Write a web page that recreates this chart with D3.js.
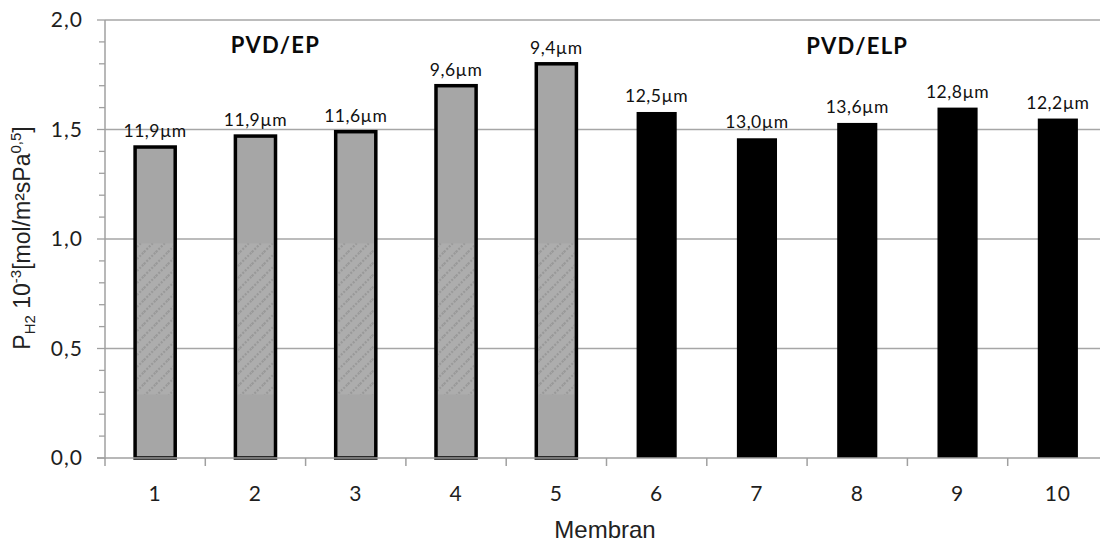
<!DOCTYPE html>
<html>
<head>
<meta charset="utf-8">
<script src="https://cdn.jsdelivr.net/npm/d3@7/dist/d3.min.js"></script>
<style>
  html, body { margin: 0; padding: 0; background: #fff; overflow: hidden; }
  svg { display: block; }
</style>
</head>
<body>
<svg id="chart" width="1100" height="543"></svg>
<script>
// Membrane numbers on the x axis
const membranes = ["1", "2", "3", "4", "5", "6", "7", "8", "9", "10"];
// Hydrogen permeability, 10^-3 mol/(m² s Pa^0.5)
const permeability = [1.42, 1.47, 1.49, 1.70, 1.80, 1.58, 1.46, 1.53, 1.60, 1.55];
// Palladium layer thickness written above each bar
const thickness = ["11,9µm", "11,9µm", "11,6µm", "9,6µm", "9,4µm",
                   "12,5µm", "13,0µm", "13,6µm", "12,8µm", "12,2µm"];
// Preparation route of each membrane
const route = ["EP", "EP", "EP", "EP", "EP", "ELP", "ELP", "ELP", "ELP", "ELP"];
const groupTitles = ["PVD/EP", "PVD/ELP"];
const yTicks = [0, 0.5, 1.0, 1.5, 2.0];

const svg = d3.select("#chart");
const margin = { left: 105, top: 20, bottom: 458 };
const plotRight = 1108;
const labelFont = "Lato, 'Open Sans', sans-serif";

const x = d3.scaleBand().domain(membranes).range([margin.left, plotRight]).padding(0);
const y = d3.scaleLinear().domain([0, 2]).range([margin.bottom, margin.top]);
const barW = x.bandwidth() * 0.4;
const fmt = d => d3.format(".1f")(d).replace(".", ",");

// Speckled texture used in the middle of the grey bars
const defs = svg.append("defs");
const pat = defs.append("pattern")
  .attr("id", "speckle").attr("patternUnits", "userSpaceOnUse")
  .attr("width", 12).attr("height", 12);
pat.append("rect").attr("width", 12).attr("height", 12).attr("fill", "#adadad");
pat.append("path").attr("d", "M0,12 L12,0 M-3,3 L3,-3 M9,15 L15,9")
  .attr("stroke", "#999").attr("stroke-width", 2.2).attr("stroke-dasharray", "2,1.5");

// Horizontal gridlines
svg.append("g").selectAll("line").data(yTicks.filter(t => t > 0)).join("line")
  .attr("x1", margin.left).attr("x2", plotRight)
  .attr("y1", d => y(d)).attr("y2", d => y(d))
  .attr("stroke", "#a6a6a6").attr("stroke-width", 1.5);

// Y axis with minor ticks every 0.1
const yAxis = svg.append("g").attr("transform", `translate(${margin.left},0)`);
yAxis.append("line").attr("x1", 0).attr("x2", 0).attr("y1", y(2)).attr("y2", y(0) + 1)
  .attr("stroke", "#a0a0a0").attr("stroke-width", 1.5);
yAxis.selectAll("line.minor").data(d3.range(0, 21).map(i => i / 10)).join("line")
  .attr("class", "minor")
  .attr("x1", d => (Math.round(d * 10) % 5 === 0 ? -8 : -6)).attr("x2", 0)
  .attr("y1", d => y(d)).attr("y2", d => y(d))
  .attr("stroke", "#a0a0a0").attr("stroke-width", 1.3);
yAxis.selectAll("text").data(yTicks).join("text")
  .attr("x", -22).attr("y", d => y(d)).attr("dy", "0.35em")
  .attr("text-anchor", "end")
  .attr("font-family", labelFont).attr("font-size", 21).attr("letter-spacing", 1)
  .attr("fill", "#1e1e1e").text(fmt);

// Bars
const bars = svg.append("g");
membranes.forEach((m, i) => {
  const cx = x(m) + x.bandwidth() / 2;
  const top = y(permeability[i]);
  if (route[i] === "EP") {
    bars.append("rect").attr("x", cx - barW / 2).attr("y", top)
      .attr("width", barW).attr("height", y(0) - top).attr("fill", "#a6a6a6");
    const t0 = y(0.98), t1 = y(0.29);
    bars.append("rect").attr("x", cx - barW / 2 + 2).attr("y", t0)
      .attr("width", barW - 4).attr("height", t1 - t0).attr("fill", "url(#speckle)");
    bars.append("rect").attr("x", cx - barW / 2).attr("y", top)
      .attr("width", barW).attr("height", y(0) - top)
      .attr("fill", "none").attr("stroke", "#000").attr("stroke-width", 3.5);
  } else {
    bars.append("rect").attr("x", cx - barW / 2).attr("y", top)
      .attr("width", barW).attr("height", y(0) - top).attr("fill", "#000");
  }
  bars.append("text").attr("x", cx).attr("y", top - 10)
    .attr("text-anchor", "middle")
    .attr("font-family", labelFont).attr("font-size", 17.5).attr("letter-spacing", 0.5)
    .attr("fill", "#111").text(thickness[i]);
});

// X axis with ticks between categories
const xAxis = svg.append("g");
xAxis.append("line").attr("x1", margin.left - 8).attr("x2", plotRight)
  .attr("y1", y(0)).attr("y2", y(0)).attr("stroke", "#a0a0a0").attr("stroke-width", 1.5);
xAxis.selectAll("line.tick").data(membranes).join("line").attr("class", "tick")
  .attr("x1", d => x(d)).attr("x2", d => x(d))
  .attr("y1", y(0)).attr("y2", y(0) + 8)
  .attr("stroke", "#a0a0a0").attr("stroke-width", 1.5);
xAxis.selectAll("text").data(membranes).join("text")
  .attr("x", d => x(d) + x.bandwidth() / 2).attr("y", 501)
  .attr("text-anchor", "middle")
  .attr("font-family", labelFont).attr("font-size", 21).attr("letter-spacing", 1)
  .attr("fill", "#1e1e1e").text(d => d);

// Group titles
svg.append("text").attr("x", x("2") + x.bandwidth() / 2 + 20).attr("y", 53)
  .attr("text-anchor", "middle").attr("font-family", labelFont)
  .attr("font-weight", "bold").attr("font-size", 22).attr("letter-spacing", 1.3)
  .attr("fill", "#0a0a0a").text(groupTitles[0]);
svg.append("text").attr("x", x("8") + x.bandwidth() / 2).attr("y", 54)
  .attr("text-anchor", "middle").attr("font-family", labelFont)
  .attr("font-weight", "bold").attr("font-size", 22).attr("letter-spacing", 1.3)
  .attr("fill", "#0a0a0a").text(groupTitles[1]);

// Axis titles
svg.append("text").attr("x", 605).attr("y", 538).attr("text-anchor", "middle")
  .attr("font-family", "'Liberation Sans', Arial, sans-serif").attr("font-size", 24)
  .attr("fill", "#222").text("Membran");

const yt = svg.append("text").attr("transform", "translate(30,238) rotate(-90)")
  .attr("text-anchor", "middle")
  .attr("font-family", "'Liberation Sans', Arial, sans-serif").attr("font-size", 23)
  .attr("fill", "#222");
yt.append("tspan").text("P");
yt.append("tspan").attr("font-size", 15).attr("dy", 5).text("H2");
yt.append("tspan").attr("dy", -5).text(" 10");
yt.append("tspan").attr("font-size", 15).attr("dy", -9).text("-3");
yt.append("tspan").attr("dy", 9).text("[mol/m²sPa");
yt.append("tspan").attr("font-size", 15).attr("dy", -9).text("0,5");
yt.append("tspan").attr("dy", 9).text("]");
</script>
</body>
</html>
